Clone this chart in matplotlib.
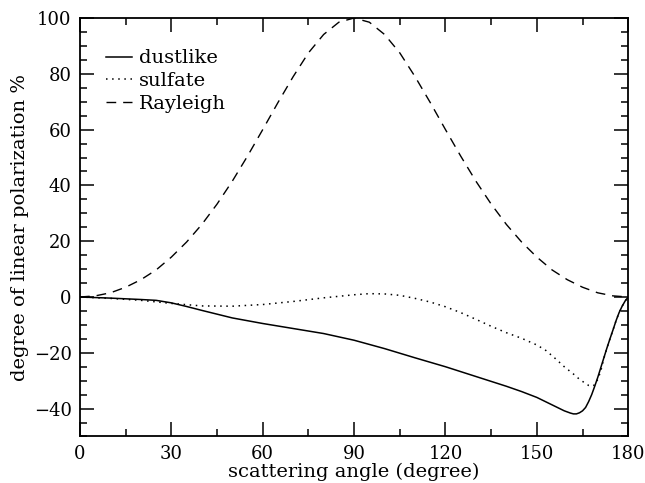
import numpy as np
import matplotlib
matplotlib.use('Agg')
import matplotlib.pyplot as plt
from matplotlib.ticker import MultipleLocator

# scattering angles (degree) and polarization (%)
ang_ray = [0, 5, 10, 15, 20, 25, 30, 35, 40, 45, 50, 55, 60, 65, 70, 75, 80, 85, 90,
           95, 100, 105, 110, 115, 120, 125, 130, 135, 140, 145, 150, 155, 160, 165, 170, 175, 180]
pol_ray = [0, 0.4, 1.5, 3.5, 6.2, 9.7, 14.3, 19.7, 26.0, 33.3, 41.5, 50.5, 60.0, 69.7, 79.0, 87.5, 94.1, 98.5, 100,
           98.5, 94.1, 87.5, 79.0, 69.7, 60.0, 50.5, 41.5, 33.3, 26.0, 19.7, 14.3, 9.7, 6.2, 3.5, 1.5, 0.4, 0]

ang_dust = [0, 10, 20, 25, 30, 35, 40, 50, 60, 70, 80, 90, 100, 110, 120, 130, 140, 145, 150, 153, 156,
            159, 161, 162, 163, 164, 165, 166, 167, 168, 169, 170, 171, 172, 173, 174, 175, 176, 177, 178, 179, 180]
pol_dust = [0, -0.4, -0.9, -1.2, -2.1, -3.4, -4.8, -7.5, -9.5, -11.3, -13.1, -15.5, -18.5, -21.8, -25.0, -28.5, -32.0, -33.9,
            -36.0, -37.6, -39.2, -40.8, -41.6, -41.9, -41.9, -41.5, -40.8, -39.6, -37.5, -35.0, -32.0, -28.8, -25.3,
            -21.8, -18.3, -15.0, -11.8, -8.5, -5.6, -3.3, -1.4, 0]

ang_sulf = [0, 10, 20, 30, 40, 50, 60, 70, 80, 90, 95, 100, 105, 110, 115, 120, 125, 130, 135, 140, 145, 150,
            153, 156, 159, 162, 164, 166, 167, 168, 169, 170, 171, 172, 173, 174, 175, 176, 177, 178, 179, 180]
pol_sulf = [0, -0.5, -1.2, -2.3, -3.2, -3.3, -2.7, -1.6, -0.3, 0.8, 1.2, 1.1, 0.6, -0.5, -1.8, -3.5, -5.6, -8.0, -10.5,
            -12.8, -14.8, -17.2, -19.2, -22.0, -25.0, -27.6, -29.5, -31.0, -31.7, -32.0, -31.5, -29.5, -26.5, -22.0,
            -18.3, -15.0, -11.8, -8.5, -5.6, -3.3, -1.4, 0]

plt.rcParams['font.family'] = 'DejaVu Serif'

fig = plt.figure(figsize=(6.45, 4.83), dpi=100)
ax = fig.add_axes([0.124, 0.0963, 0.850, 0.8664])

ax.plot(ang_dust, pol_dust, color='black', lw=1.1, ls='-', label='dustlike')
ax.plot(ang_sulf, pol_sulf, color='black', lw=1.1, ls=(0, (1, 3)), label='sulfate')
ax.plot(ang_ray, pol_ray, color='black', lw=1.0, ls=(0, (7, 5)), label='Rayleigh')

ax.set_xlim(0, 180)
ax.set_ylim(-50, 100)
ax.xaxis.set_major_locator(MultipleLocator(30))
ax.xaxis.set_minor_locator(MultipleLocator(15))
ax.yaxis.set_major_locator(MultipleLocator(20))
ax.yaxis.set_minor_locator(MultipleLocator(5))
ax.tick_params(which='both', direction='in', top=True, right=True, labelsize=13, width=1.1)
ax.tick_params(which='major', length=10, pad=6)
ax.tick_params(which='minor', length=5)
for s in ax.spines.values():
    s.set_linewidth(1.3)

ax.set_xlabel('scattering angle (degree)', fontsize=14, labelpad=0)
ax.set_ylabel('degree of linear polarization %', fontsize=14, labelpad=3)

ax.legend(loc='upper left', frameon=False, fontsize=14, handlelength=1.3, handletextpad=0.4,
          labelspacing=0.25, borderaxespad=0, borderpad=0, bbox_to_anchor=(0.048, 0.925))

fig.savefig('out.png', dpi=100)
